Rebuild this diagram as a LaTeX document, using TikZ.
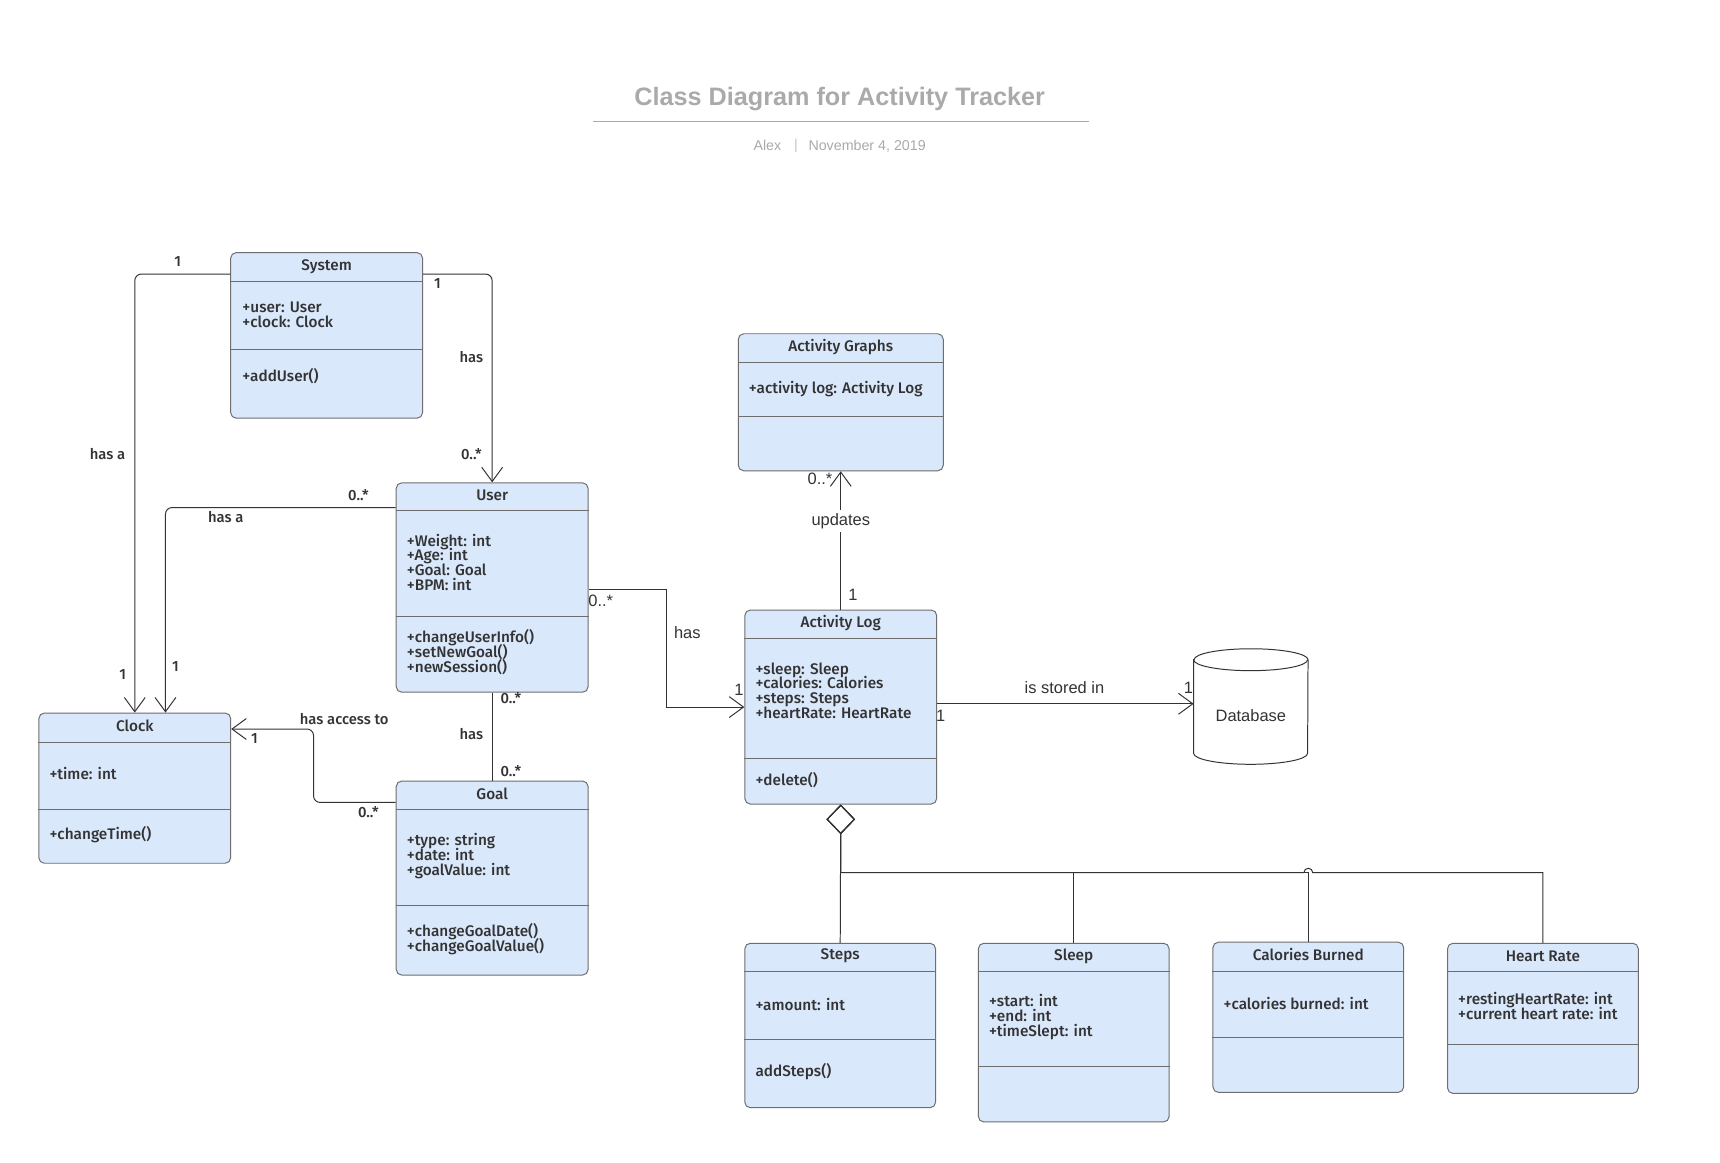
\documentclass[tikz,border=0pt]{standalone}
\usepackage{fontspec}
\setmainfont{Liberation Sans}
\newfontfamily\umlfont{Fira Sans}[UprightFont=* Medium]
\usetikzlibrary{arrows.meta, positioning}
\setlength{\lineskiplimit}{-20pt}

\definecolor{classfill}{RGB}{218,232,252}
\definecolor{classline}{RGB}{110,110,110}
\definecolor{umltext}{RGB}{51,51,51}
\definecolor{titlegray}{RGB}{170,170,170}

\begin{document}
\begin{tikzpicture}[x=1pt, y=1pt, >={Straight Barb[length=13pt, width=19pt]},
    classbox/.style={draw=classline, fill=classfill, line width=0.9pt, rounded corners=5pt, anchor=north west, inner sep=0pt},
    divider/.style={draw=classline, line width=0.8pt},
    classname/.style={font=\umlfont\fontsize{14}{13.5}\selectfont, text=umltext},
    members/.style={font=\umlfont\fontsize{14}{13.5}\selectfont, text=umltext, align=left, anchor=west, inner sep=0pt},
    assoc/.style={draw=umltext, line width=0.9pt},
    mult/.style={font=\umlfont\fontsize{13.5}{15}\selectfont, text=umltext, inner sep=0pt},
    tag/.style={font=\fontsize{15}{18}\selectfont, text=umltext, inner sep=0pt},
    aggr/.style={assoc, {Diamond[open, length=27pt, width=26pt]}-}]

    % page
    \fill[white] (0,0) rectangle (1569,-1060);

    % Heading
    \node[font=\bfseries\fontsize{23}{27}\selectfont, text=titlegray] (title) at (766,-90) {Class Diagram for Activity Tracker};
    \draw[titlegray, line width=1.2pt] (541,-111) -- (993,-111);
    \node[font=\fontsize{13}{15}\selectfont, text=titlegray] (author) at (700,-133) {Alex};
    \node[font=\fontsize{13}{15}\selectfont, text=titlegray!70] (bar) at (726,-133) {|};
    \node[font=\fontsize{13}{15}\selectfont, text=titlegray] (date) at (791,-133) {November 4, 2019};

    % System
    \node[classbox, minimum width=175, minimum height=151] (sys) at (210,-230) {};
    \draw[divider] ([yshift=-27]sys.north west) -- ([yshift=-27]sys.north east);
    \draw[divider] ([yshift=-89]sys.north west) -- ([yshift=-89]sys.north east);
    \node[classname] (sysname) at ([yshift=-13]sys.north) {System};
    \node[members] (sysattr) at ([xshift=11, yshift=-57]sys.north west) {+user: User\\+clock: Clock};
    \node[members] (sysops) at ([xshift=11, yshift=-113]sys.north west) {+addUser()};

    % User
    \node[classbox, minimum width=175, minimum height=191] (user) at (361,-440) {};
    \draw[divider] ([yshift=-26]user.north west) -- ([yshift=-26]user.north east);
    \draw[divider] ([yshift=-122]user.north west) -- ([yshift=-122]user.north east);
    \node[classname] (username) at ([yshift=-12]user.north) {User};
    \node[members] (userattr) at ([xshift=10, yshift=-73]user.north west) {+Weight: int\\+Age: int\\+Goal: Goal\\+BPM: int};
    \node[members] (userops) at ([xshift=10, yshift=-155]user.north west) {+changeUserInfo()\\+setNewGoal()\\+newSession()};

    % Clock
    \node[classbox, minimum width=175, minimum height=137] (clock) at (35,-650) {};
    \draw[divider] ([yshift=-27]clock.north west) -- ([yshift=-27]clock.north east);
    \draw[divider] ([yshift=-88]clock.north west) -- ([yshift=-88]clock.north east);
    \node[classname] (clockname) at ([yshift=-12]clock.north) {Clock};
    \node[members] (clockattr) at ([xshift=10, yshift=-56]clock.north west) {+time: int};
    \node[members] (clockops) at ([xshift=10, yshift=-111]clock.north west) {+changeTime()};

    % Goal
    \node[classbox, minimum width=175, minimum height=177] (goal) at (361,-712) {};
    \draw[divider] ([yshift=-26]goal.north west) -- ([yshift=-26]goal.north east);
    \draw[divider] ([yshift=-114]goal.north west) -- ([yshift=-114]goal.north east);
    \node[classname] (goalname) at ([yshift=-12]goal.north) {Goal};
    \node[members] (goalattr) at ([xshift=10, yshift=-69]goal.north west) {+type: string\\+date: int\\+goalValue: int};
    \node[members] (goalops) at ([xshift=10, yshift=-145]goal.north west) {+changeGoalDate()\\+changeGoalValue()};

    % Activity Graphs
    \node[classbox, minimum width=187, minimum height=125] (agraph) at (673,-304) {};
    \draw[divider] ([yshift=-27]agraph.north west) -- ([yshift=-27]agraph.north east);
    \draw[divider] ([yshift=-76]agraph.north west) -- ([yshift=-76]agraph.north east);
    \node[classname] (agraphname) at ([yshift=-13]agraph.north) {Activity Graphs};
    \node[members] (agraphattr) at ([xshift=10, yshift=-51]agraph.north west) {+activity log: Activity Log};

    % Activity Log
    \node[classbox, minimum width=175, minimum height=177] (alog) at (679,-556) {};
    \draw[divider] ([yshift=-26]alog.north west) -- ([yshift=-26]alog.north east);
    \draw[divider] ([yshift=-136]alog.north west) -- ([yshift=-136]alog.north east);
    \node[classname] (alogname) at ([yshift=-12]alog.north) {Activity Log};
    \node[members] (alogattr) at ([xshift=10, yshift=-74]alog.north west) {+sleep: Sleep\\+calories: Calories\\+steps: Steps\\+heartRate: HeartRate};
    \node[members] (alogops) at ([xshift=10, yshift=-156]alog.north west) {+delete()};

    % Database
    \node[minimum width=104, minimum height=105, inner sep=0pt] (db) at (1141,-644.5) {};
    \draw[assoc] ([yshift=-10]db.north west) -- ([yshift=10]db.south west)
        arc[start angle=180, end angle=360, x radius=52, y radius=10]
        -- ([yshift=-10]db.north east)
        arc[start angle=0, end angle=180, x radius=52, y radius=10] -- cycle;
    \draw[assoc] ([yshift=-10]db.north west) arc[start angle=180, end angle=360, x radius=52, y radius=10];
    \node[tag] (dbname) at ([yshift=-8]db.center) {Database};

    % Steps
    \node[classbox, minimum width=174, minimum height=150] (steps) at (679,-860) {};
    \draw[divider] ([yshift=-26]steps.north west) -- ([yshift=-26]steps.north east);
    \draw[divider] ([yshift=-88]steps.north west) -- ([yshift=-88]steps.north east);
    \node[classname] (stepsname) at ([yshift=-12]steps.north) {Steps};
    \node[members] (stepsattr) at ([xshift=10, yshift=-56]steps.north west) {+amount: int};
    \node[members] (stepsops) at ([xshift=10, yshift=-118]steps.north west) {addSteps()};

    % Sleep
    \node[classbox, minimum width=174, minimum height=163] (sleep) at (892,-860) {};
    \draw[divider] ([yshift=-26]sleep.north west) -- ([yshift=-26]sleep.north east);
    \draw[divider] ([yshift=-113]sleep.north west) -- ([yshift=-113]sleep.north east);
    \node[classname] (sleepname) at ([yshift=-12]sleep.north) {Sleep};
    \node[members] (sleepattr) at ([xshift=10, yshift=-68]sleep.north west) {+start: int\\+end: int\\+timeSlept: int};

    % Calories Burned
    \node[classbox, minimum width=174, minimum height=137] (cal) at (1106,-859) {};
    \draw[divider] ([yshift=-27]cal.north west) -- ([yshift=-27]cal.north east);
    \draw[divider] ([yshift=-87]cal.north west) -- ([yshift=-87]cal.north east);
    \node[classname] (calname) at ([yshift=-12]cal.north) {Calories Burned};
    \node[members] (calattr) at ([xshift=10, yshift=-56]cal.north west) {+calories burned: int};

    % Heart Rate
    \node[classbox, minimum width=174, minimum height=137] (hrate) at (1320,-860) {};
    \draw[divider] ([yshift=-26]hrate.north west) -- ([yshift=-26]hrate.north east);
    \draw[divider] ([yshift=-93]hrate.north west) -- ([yshift=-93]hrate.north east);
    \node[classname] (hratename) at ([yshift=-12]hrate.north) {Heart Rate};
    \node[members] (hrateattr) at ([xshift=10, yshift=-58]hrate.north west) {+restingHeartRate: int\\+current heart rate: int};

    % Associations
    \draw[assoc, ->, rounded corners=6pt] ([yshift=-20]sys.north west) -| (clock.north);
    \draw[assoc, ->, rounded corners=6pt] ([yshift=-20]sys.north east) -| (user.north);
    \draw[assoc, ->, rounded corners=6pt] ([yshift=-23]user.north west) -| ([xshift=28]clock.north);
    \draw[assoc, ->] ([yshift=-98]user.north east) -- ++(71,0) |- ([yshift=-89]alog.north west);
    \draw[assoc] (user.south) -- (goal.north);
    \draw[assoc, ->, rounded corners=6pt] ([yshift=-20]goal.north west) -- ++(-75,0) |- ([yshift=-15]clock.north east);
    \draw[assoc, ->] (alog.north) -- (agraph.south)
        node[tag, pos=0.64, fill=white, inner sep=3pt] (upd) {updates};
    \draw[assoc, ->] ([yshift=-86]alog.north east) coordinate (st) -- (st -| db.west);

    % Aggregation of the parts
    \coordinate (hop) at ([yshift=63]cal.north);
    \draw[aggr] (alog.south) -- (steps.north);
    \draw[aggr] (alog.south) |- ([yshift=64]sleep.north) -- (sleep.north);
    \draw[aggr] (alog.south) |- (hop) -- (cal.north);
    \draw[aggr] (alog.south) |- ([xshift=-4]hop) arc[start angle=180, end angle=0, radius=4] -| (hrate.north);

    % Multiplicities and roles
    \node[mult] (m1) at (162,-239) {1};
    \node[mult] (m2) at (98,-414) {has a};
    \node[mult] (m3) at (112,-615) {1};
    \node[mult] (m4) at (399,-259) {1};
    \node[mult] (m5) at (430,-326) {has};
    \node[mult] (m6) at (430,-414) {0..*};
    \node[mult] (m7) at (327,-452) {0..*};
    \node[mult] (m8) at (206,-472) {has a};
    \node[mult] (m9) at (160,-608) {1};
    \node[mult] (m10) at (466,-637) {0..*};
    \node[mult] (m11) at (430,-670) {has};
    \node[mult] (m12) at (466,-703) {0..*};
    \node[mult] (m13) at (314,-656) {has access to};
    \node[mult] (m14) at (232,-674) {1};
    \node[mult] (m15) at (336,-741) {0..*};
    \node[tag] (t1) at (548,-548) {0..*};
    \node[tag] (t2) at (627,-577) {has};
    \node[tag] (t3) at (674,-629) {1};
    \node[tag] (t4) at (778,-543) {1};
    \node[tag] (t5) at (748,-437) {0..*};
    \node[tag] (t6) at (971,-627) {is stored in};
    \node[tag] (t7) at (858,-653) {1};
    \node[tag] (t8) at (1084,-627) {1};
\end{tikzpicture}
\end{document}
